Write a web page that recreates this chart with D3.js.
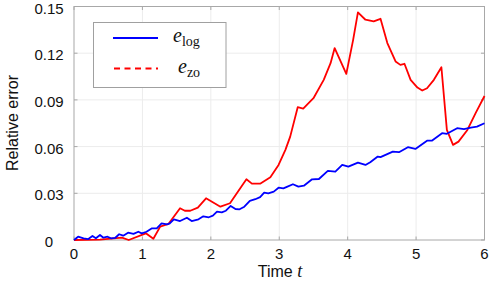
<!DOCTYPE html>
<html>
<head>
<meta charset="utf-8">
<script src="https://cdn.jsdelivr.net/npm/d3@7"></script>
<style>
  body { margin: 0; background: #fff; }
  text { font-family: "Liberation Sans", Arial, sans-serif; fill: #111; }
  .math { font-family: "Liberation Serif", "DejaVu Serif", serif; }
</style>
</head>
<body>
<div id="chart"></div>
<script>
// time / error samples
const logT = [0, 0.06, 0.14, 0.21, 0.27, 0.32, 0.38, 0.43, 0.49, 0.54, 0.60, 0.66, 0.72, 0.79, 0.87, 0.94, 0.99,
  1.06, 1.14, 1.21, 1.28, 1.36, 1.40, 1.46, 1.55, 1.65, 1.72, 1.82, 1.89, 1.97, 2.03, 2.09, 2.16, 2.22, 2.29,
  2.36, 2.42, 2.49, 2.57, 2.65, 2.72, 2.78, 2.84, 2.92, 2.99, 3.06, 3.12, 3.20, 3.28, 3.36, 3.48, 3.58, 3.71,
  3.82, 3.92, 4.01, 4.15, 4.26, 4.33, 4.44, 4.48, 4.66, 4.75, 4.88, 4.99, 5.16, 5.23, 5.38, 5.45, 5.60, 5.70,
  5.80, 5.89, 6.0];
const logErr = [0, 0.0021, 0.0011, 0.0006, 0.0026, 0.0011, 0.0032, 0.0015, 0.0021, 0.0011, 0.0013, 0.0037, 0.0028,
  0.0047, 0.0039, 0.0053, 0.0043, 0.0053, 0.0075, 0.0075, 0.0107, 0.0101, 0.0107, 0.0133, 0.0122, 0.0143, 0.0122,
  0.0133, 0.0152, 0.0146, 0.0156, 0.0182, 0.0178, 0.0188, 0.0219, 0.0199, 0.0197, 0.0214, 0.0251, 0.0262, 0.0275,
  0.0304, 0.0300, 0.0311, 0.0336, 0.0332, 0.0343, 0.0358, 0.0343, 0.0349, 0.0390, 0.0392, 0.0444, 0.0439, 0.0482,
  0.0471, 0.0497, 0.0482, 0.0500, 0.0536, 0.0532, 0.0568, 0.0564, 0.0596, 0.0585, 0.0638, 0.0638, 0.0686, 0.0682,
  0.0718, 0.0712, 0.0722, 0.0728, 0.0750];

const zoT = [0, 0.38, 0.70, 0.80, 1.05, 1.16, 1.26, 1.38, 1.55, 1.62, 1.70, 1.81, 1.93, 2.14, 2.28, 2.43, 2.52,
  2.60, 2.72, 2.87, 2.99, 3.09, 3.16, 3.27, 3.35, 3.50, 3.65, 3.75, 3.81, 3.98, 4.08, 4.15, 4.26, 4.38, 4.48,
  4.58, 4.70, 4.77, 4.83, 4.92, 5.02, 5.09, 5.16, 5.26, 5.37, 5.45, 5.54, 5.62, 5.75, 5.87, 6.0];
const zoErr = [0, 0.0003, 0.0015, 0.0, 0.0043, 0.0008, 0.0086, 0.0103, 0.0204, 0.0188, 0.0188, 0.0208, 0.0268,
  0.0214, 0.0236, 0.0332, 0.0390, 0.0362, 0.0362, 0.0403, 0.0482, 0.0579, 0.0664, 0.0853, 0.0844, 0.0911,
  0.1029, 0.1136, 0.1233, 0.1067, 0.1286, 0.1462, 0.1415, 0.1404, 0.1421, 0.1265, 0.1147, 0.1125, 0.1132,
  0.1029, 0.0979, 0.0960, 0.0975, 0.1029, 0.1110, 0.0707, 0.0611, 0.0632, 0.0707, 0.0815, 0.0925];

const xTicks = [0, 1, 2, 3, 4, 5, 6];
const yTicks = [0, 0.03, 0.06, 0.09, 0.12, 0.15];

const w = 491, h = 282;
const pLeft = 74, pRight = 484.5, pTop = 6.5, pBottom = 240;

const svg = d3.select("#chart").append("svg")
    .attr("width", w)
    .attr("height", h);

const x = d3.scaleLinear().domain([0, 6]).range([pLeft, pRight]);
const y = d3.scaleLinear().domain([0, 0.15]).range([pBottom, pTop]);

//grid lines
svg.append("g")
    .selectAll("line")
    .data(xTicks.slice(1, -1))
    .join("line")
    .attr("x1", d => x(d)).attr("x2", d => x(d))
    .attr("y1", pTop).attr("y2", pBottom)
    .attr("stroke", "#ececec");
svg.append("g")
    .selectAll("line")
    .data(yTicks.slice(1, -1))
    .join("line")
    .attr("x1", pLeft).attr("x2", pRight)
    .attr("y1", d => y(d)).attr("y2", d => y(d))
    .attr("stroke", "#ececec");

//inner ticks on all four sides
const tickCol = "#a8a8a8", tl = 3.5;
const ticks = svg.append("g").attr("stroke", tickCol);
xTicks.forEach(d => {
    ticks.append("line").attr("x1", x(d)).attr("x2", x(d)).attr("y1", pBottom).attr("y2", pBottom - tl);
    ticks.append("line").attr("x1", x(d)).attr("x2", x(d)).attr("y1", pTop).attr("y2", pTop + tl);
});
yTicks.forEach(d => {
    ticks.append("line").attr("x1", pLeft).attr("x2", pLeft + tl).attr("y1", y(d)).attr("y2", y(d));
    ticks.append("line").attr("x1", pRight).attr("x2", pRight - tl).attr("y1", y(d)).attr("y2", y(d));
});

//frame
svg.append("rect")
    .attr("x", pLeft).attr("y", pTop)
    .attr("width", pRight - pLeft).attr("height", pBottom - pTop)
    .attr("fill", "none")
    .attr("stroke", tickCol);

//tick labels
svg.append("g")
    .selectAll("text")
    .data(xTicks)
    .join("text")
    .attr("x", d => x(d))
    .attr("y", 259)
    .attr("text-anchor", "middle")
    .style("font-size", "15px")
    .text(d => d);

svg.append("g")
    .selectAll("text")
    .data(yTicks)
    .join("text")
    .attr("x", 49)
    .attr("y", d => y(d) + 7)
    .attr("text-anchor", "middle")
    .style("font-size", "15px")
    .text(d => d === 0 ? "0" : d.toFixed(2));

//axis titles
svg.append("text")
    .attr("transform", "translate(18, 123) rotate(-90)")
    .attr("text-anchor", "middle")
    .style("font-size", "16px")
    .text("Relative error");

const xt = svg.append("text")
    .attr("x", 280)
    .attr("y", 277)
    .attr("text-anchor", "middle")
    .style("font-size", "16px");
xt.append("tspan").text("Time ");
xt.append("tspan").attr("class", "math").style("font-style", "italic").style("font-size", "18px").text("t");

//lines
const line = d3.line()
    .x(d => x(d[0]))
    .y(d => y(d[1]));

svg.append("path")
    .datum(zoT.map((t, i) => [t, zoErr[i]]))
    .attr("d", line)
    .attr("fill", "none")
    .attr("stroke", "#ff0000")
    .attr("stroke-width", 1.8)
    .attr("stroke-linejoin", "round");

svg.append("path")
    .datum(logT.map((t, i) => [t, logErr[i]]))
    .attr("d", line)
    .attr("fill", "none")
    .attr("stroke", "#0000ff")
    .attr("stroke-width", 1.8)
    .attr("stroke-linejoin", "round");

//legend
const lg = svg.append("g");
lg.append("rect")
    .attr("x", 93.5).attr("y", 22.5)
    .attr("width", 132.5).attr("height", 65)
    .attr("fill", "#fff")
    .attr("stroke", "#a0a0a0");
lg.append("line")
    .attr("x1", 113).attr("x2", 158).attr("y1", 38).attr("y2", 38)
    .attr("stroke", "#0000ff").attr("stroke-width", 1.8);
lg.append("line")
    .attr("x1", 114).attr("x2", 158).attr("y1", 68.5).attr("y2", 68.5)
    .attr("stroke", "#ff0000").attr("stroke-width", 1.8)
    .attr("stroke-dasharray", "6,4.5");

const legendItems = [["log", 173, 42], ["zo", 178, 73]];
legendItems.forEach(([sub, lx, ly]) => {
    const t = lg.append("text").attr("class", "math").attr("x", lx).attr("y", ly);
    t.append("tspan").style("font-style", "italic").style("font-size", "20px").text("e");
    t.append("tspan").attr("dy", 4).style("font-size", "14px").text(sub);
});
</script>
</body>
</html>
